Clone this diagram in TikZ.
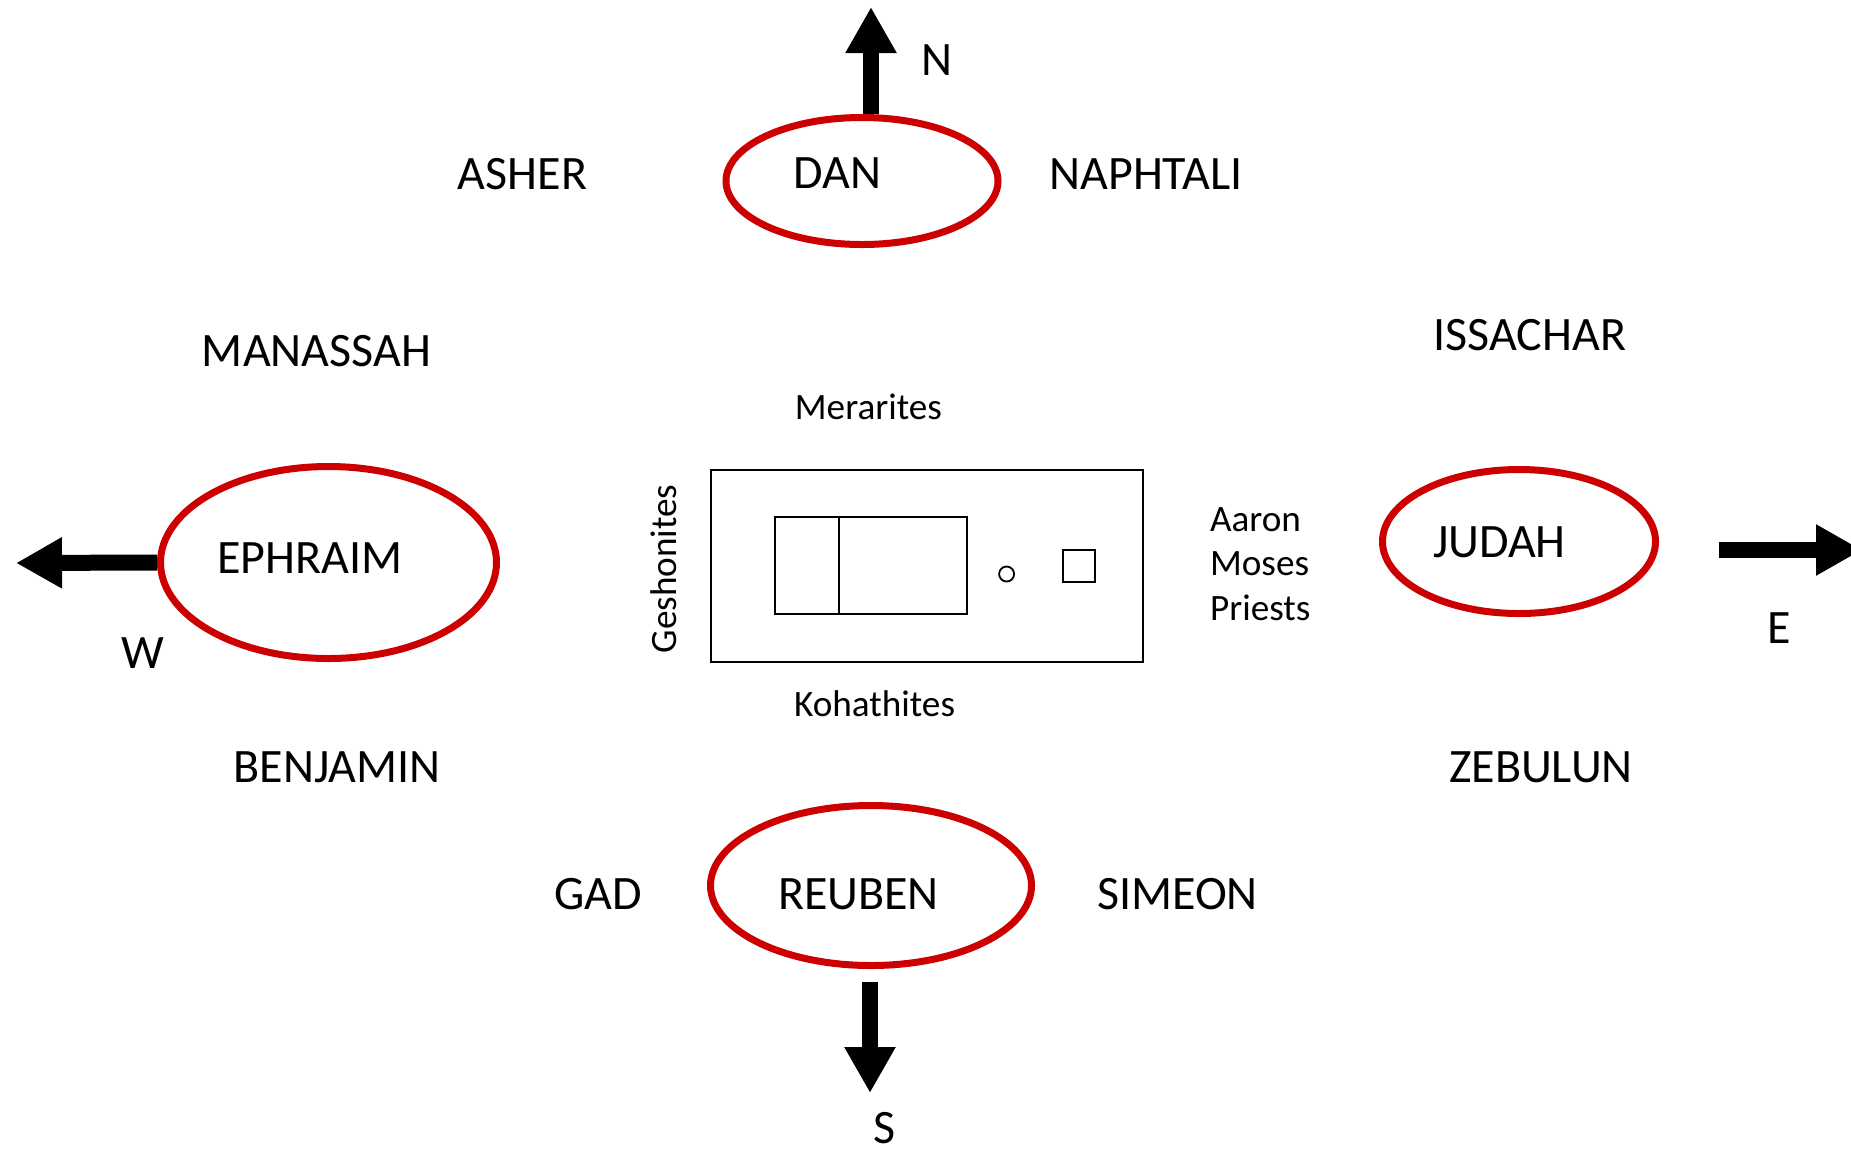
\documentclass[tikz,border=0pt]{standalone}
\usepackage{fontspec}
\setmainfont{Carlito}
\usetikzlibrary{shapes.geometric,arrows.meta}
\definecolor{campred}{RGB}{204,0,0}
\tikzset{
  camp/.style={ellipse, draw=campred, line width=3.5pt, inner sep=0pt},
  tribe/.style={anchor=base, font=\fontsize{24}{28}\selectfont},
  clanfont/.style={font=\fontsize{18.6}{22}\selectfont},
  clan/.style={anchor=base, clanfont},
  clanw/.style={anchor=base west, clanfont},
  plan/.style={draw, line width=0.9pt, inner sep=0pt},
  compass/.style={line width=8pt, -{Triangle[length=23pt,width=24pt]}},
}
\begin{document}
\begin{tikzpicture}[x=0.5pt, y=-0.5pt]
\useasboundingbox (0,0) rectangle (1851,1152);
\clip (0,0) rectangle (1851,1152);

% leading camps
\node[camp, minimum width=136pt, minimum height=63.5pt] (dan) at (862,181) {};
\node[camp, minimum width=168pt, minimum height=96pt] (ephraim) at (328.5,562.5) {};
\node[camp, minimum width=136.5pt, minimum height=72pt] (judah) at (1519,541.5) {};
\node[camp, minimum width=160.5pt, minimum height=80pt] (reuben) at (871,885.5) {};

% tribe names
\node[tribe] (tdan) at (837.5,188) {DAN};
\node[tribe] (tephraim) at (310,573) {EPHRAIM};
\node[tribe] (tjudah) at (1499.5,557) {JUDAH};
\node[tribe] (treuben) at (858.5,909) {REUBEN};
\node[tribe] (asher) at (522.5,189) {ASHER};
\node[tribe] (naphtali) at (1146,189) {NAPHTALI};
\node[tribe] (manassah) at (316.5,366) {MANASSAH};
\node[tribe] (issachar) at (1530,350) {ISSACHAR};
\node[tribe] (benjamin) at (337,782) {BENJAMIN};
\node[tribe] (zebulun) at (1541,782) {ZEBULUN};
\node[tribe] (gad) at (598,909) {GAD};
\node[tribe] (simeon) at (1177.5,909) {SIMEON};

% compass arrows
\coordinate (ntip) at (871,7);
\coordinate (wtip) at (16,563);
\coordinate (sstart) at (870,982);
\coordinate (stip) at (870,1093);
\coordinate (estart) at (1719,550);
\coordinate (etip) at (1862,550);
\draw[compass] (dan.north -| ntip) -- (ntip);
\draw[compass] (ephraim.west) -- (wtip);
\draw[compass] (sstart) -- (stip);
\draw[compass] (estart) -- (etip);
\node[tribe] (lN) at (937,75) {N};
\node[tribe] (lW) at (143,668) {W};
\node[tribe, inner sep=0pt] (lS) at (885,1143) {S};
\node[tribe] (lE) at (1779,643) {E};

% tabernacle court
\node[plan, minimum width=216.3pt, minimum height=96pt] (court) at (926.9,566) {};
\node[plan, minimum width=96.2pt, minimum height=48.5pt] (tent) at (871.1,565.5) {};
\coordinate (veil) at (838.8,0);
\draw[line width=0.9pt] (tent.north -| veil) -- (tent.south -| veil);
\node[plan, circle, minimum size=7.5pt] (laver) at (1006.6,574) {};
\node[plan, minimum width=16pt, minimum height=16pt] (altar) at (1079,566) {};

% Levite clans
\node[clan] (merarites) at (868.4,419) {Merarites};
\node[clan] (kohathites) at (874.6,716) {Kohathites};
\node[rotate=90, clanfont] (geshonites) at (663.4,569) {Geshonites};
\node[clanw] (aaron) at (1203,531) {Aaron};
\node[clanw] (moses) at (1203,575) {Moses};
\node[clanw] (priests) at (1203,620) {Priests};
\end{tikzpicture}
\end{document}
